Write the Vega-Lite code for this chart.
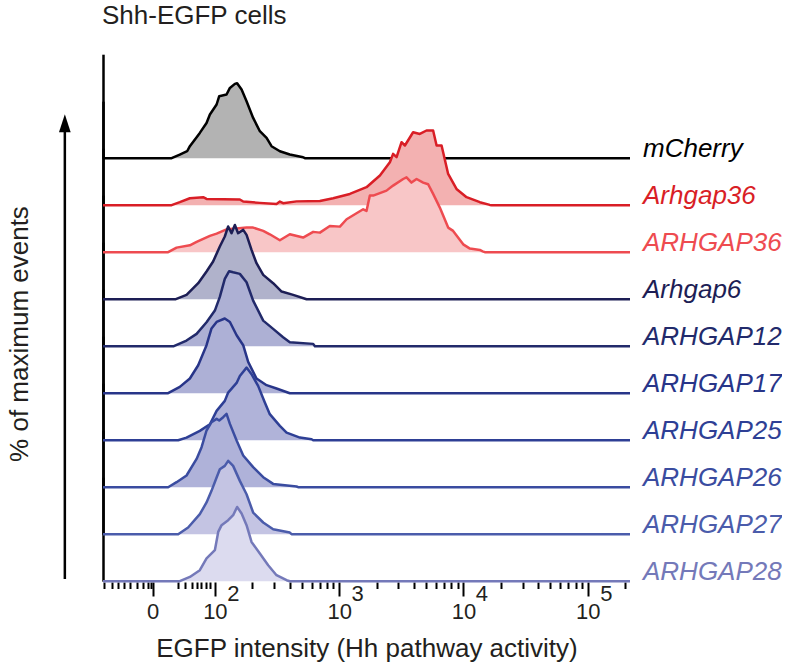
{
  "$schema": "https://vega.github.io/schema/vega-lite/v6.json",
  "padding": {"left": 6, "top": 2, "right": 0, "bottom": 0},
  "title": {"text": "Shh-EGFP cells", "anchor": "start", "fontSize": 26, "fontWeight": "normal", "font": "Liberation Sans", "color": "#231f20", "offset": 53, "dx": 95},
  "data": {"values": [
    {"series":"mCherry","x":1.1,"pct":0},{"series":"mCherry","x":1.652,"pct":0},{"series":"mCherry","x":1.718,"pct":4.9},{"series":"mCherry","x":1.777,"pct":9.3},{"series":"mCherry","x":1.799,"pct":16},{"series":"mCherry","x":1.879,"pct":33.7},{"series":"mCherry","x":1.933,"pct":47},{"series":"mCherry","x":1.96,"pct":58.2},{"series":"mCherry","x":2.014,"pct":71.6},{"series":"mCherry","x":2.035,"pct":82.7},{"series":"mCherry","x":2.094,"pct":84.9},{"series":"mCherry","x":2.121,"pct":93.7},{"series":"mCherry","x":2.161,"pct":99.1},{"series":"mCherry","x":2.179,"pct":100},{"series":"mCherry","x":2.215,"pct":91.6},{"series":"mCherry","x":2.255,"pct":76},{"series":"mCherry","x":2.308,"pct":53.7},{"series":"mCherry","x":2.362,"pct":36},{"series":"mCherry","x":2.416,"pct":27},{"series":"mCherry","x":2.456,"pct":16},{"series":"mCherry","x":2.523,"pct":9.3},{"series":"mCherry","x":2.603,"pct":4.9},{"series":"mCherry","x":2.71,"pct":1.3},{"series":"mCherry","x":2.724,"pct":0},{"series":"mCherry","x":5.34,"pct":0},
    {"series":"Arhgap36","x":1.1,"pct":0},{"series":"Arhgap36","x":1.652,"pct":0},{"series":"Arhgap36","x":1.718,"pct":4},{"series":"Arhgap36","x":1.799,"pct":9.3},{"series":"Arhgap36","x":1.906,"pct":10.7},{"series":"Arhgap36","x":1.933,"pct":8.4},{"series":"Arhgap36","x":2.201,"pct":7.6},{"series":"Arhgap36","x":2.228,"pct":4.9},{"series":"Arhgap36","x":2.362,"pct":3.1},{"series":"Arhgap36","x":2.496,"pct":1.7},{"series":"Arhgap36","x":2.523,"pct":4.9},{"series":"Arhgap36","x":2.549,"pct":2.7},{"series":"Arhgap36","x":2.657,"pct":5.1},{"series":"Arhgap36","x":2.845,"pct":5.6},{"series":"Arhgap36","x":2.952,"pct":9.3},{"series":"Arhgap36","x":3.086,"pct":15},{"series":"Arhgap36","x":3.22,"pct":24},{"series":"Arhgap36","x":3.328,"pct":39.6},{"series":"Arhgap36","x":3.408,"pct":57.3},{"series":"Arhgap36","x":3.434,"pct":68.4},{"series":"Arhgap36","x":3.462,"pct":64},{"series":"Arhgap36","x":3.502,"pct":84},{"series":"Arhgap36","x":3.529,"pct":79.6},{"series":"Arhgap36","x":3.595,"pct":97.3},{"series":"Arhgap36","x":3.649,"pct":95},{"series":"Arhgap36","x":3.703,"pct":99.6},{"series":"Arhgap36","x":3.756,"pct":99.6},{"series":"Arhgap36","x":3.784,"pct":79.6},{"series":"Arhgap36","x":3.824,"pct":79.6},{"series":"Arhgap36","x":3.877,"pct":41.7},{"series":"Arhgap36","x":3.944,"pct":21.7},{"series":"Arhgap36","x":4.025,"pct":10.7},{"series":"Arhgap36","x":4.132,"pct":4},{"series":"Arhgap36","x":4.212,"pct":0.4},{"series":"Arhgap36","x":4.228,"pct":0},{"series":"Arhgap36","x":5.34,"pct":0},
    {"series":"ARHGAP36","x":1.1,"pct":0},{"series":"ARHGAP36","x":1.624,"pct":0},{"series":"ARHGAP36","x":1.692,"pct":6.1},{"series":"ARHGAP36","x":1.799,"pct":9.2},{"series":"ARHGAP36","x":1.853,"pct":13.7},{"series":"ARHGAP36","x":1.96,"pct":21.7},{"series":"ARHGAP36","x":2.014,"pct":24.8},{"series":"ARHGAP36","x":2.094,"pct":30.5},{"series":"ARHGAP36","x":2.175,"pct":31.5},{"series":"ARHGAP36","x":2.255,"pct":32.8},{"series":"ARHGAP36","x":2.308,"pct":32.8},{"series":"ARHGAP36","x":2.389,"pct":28.4},{"series":"ARHGAP36","x":2.442,"pct":23.9},{"series":"ARHGAP36","x":2.523,"pct":15.9},{"series":"ARHGAP36","x":2.603,"pct":23.9},{"series":"ARHGAP36","x":2.71,"pct":19.5},{"series":"ARHGAP36","x":2.791,"pct":27.1},{"series":"ARHGAP36","x":2.845,"pct":26.1},{"series":"ARHGAP36","x":2.925,"pct":35},{"series":"ARHGAP36","x":3.006,"pct":34.1},{"series":"ARHGAP36","x":3.06,"pct":43.9},{"series":"ARHGAP36","x":3.193,"pct":57.2},{"series":"ARHGAP36","x":3.22,"pct":55},{"series":"ARHGAP36","x":3.247,"pct":75.5},{"series":"ARHGAP36","x":3.274,"pct":75.5},{"series":"ARHGAP36","x":3.381,"pct":82.1},{"series":"ARHGAP36","x":3.434,"pct":88.8},{"series":"ARHGAP36","x":3.515,"pct":97.6},{"series":"ARHGAP36","x":3.542,"pct":99.8},{"series":"ARHGAP36","x":3.582,"pct":92.8},{"series":"ARHGAP36","x":3.623,"pct":97.6},{"series":"ARHGAP36","x":3.676,"pct":92.8},{"series":"ARHGAP36","x":3.716,"pct":90.6},{"series":"ARHGAP36","x":3.756,"pct":77.7},{"series":"ARHGAP36","x":3.81,"pct":59.5},{"series":"ARHGAP36","x":3.877,"pct":32.8},{"series":"ARHGAP36","x":3.917,"pct":28.4},{"series":"ARHGAP36","x":3.998,"pct":10.5},{"series":"ARHGAP36","x":4.052,"pct":4.8},{"series":"ARHGAP36","x":4.132,"pct":3},{"series":"ARHGAP36","x":4.154,"pct":1.2},{"series":"ARHGAP36","x":4.172,"pct":0},{"series":"ARHGAP36","x":5.34,"pct":0},
    {"series":"Arhgap6","x":1.1,"pct":0},{"series":"Arhgap6","x":1.686,"pct":0},{"series":"Arhgap6","x":1.772,"pct":5.7},{"series":"Arhgap6","x":1.866,"pct":21.3},{"series":"Arhgap6","x":1.933,"pct":37},{"series":"Arhgap6","x":1.986,"pct":50.3},{"series":"Arhgap6","x":2.04,"pct":70.3},{"series":"Arhgap6","x":2.08,"pct":83.6},{"series":"Arhgap6","x":2.107,"pct":97},{"series":"Arhgap6","x":2.134,"pct":88},{"series":"Arhgap6","x":2.161,"pct":99},{"series":"Arhgap6","x":2.187,"pct":88},{"series":"Arhgap6","x":2.228,"pct":92.4},{"series":"Arhgap6","x":2.255,"pct":85.7},{"series":"Arhgap6","x":2.295,"pct":65.7},{"series":"Arhgap6","x":2.335,"pct":48},{"series":"Arhgap6","x":2.389,"pct":32.4},{"series":"Arhgap6","x":2.469,"pct":21.3},{"series":"Arhgap6","x":2.537,"pct":10.2},{"series":"Arhgap6","x":2.63,"pct":5.7},{"series":"Arhgap6","x":2.738,"pct":0},{"series":"Arhgap6","x":5.34,"pct":0},
    {"series":"ARHGAP12","x":1.1,"pct":0},{"series":"ARHGAP12","x":1.67,"pct":0},{"series":"ARHGAP12","x":1.772,"pct":7.5},{"series":"ARHGAP12","x":1.853,"pct":16.4},{"series":"ARHGAP12","x":1.933,"pct":32},{"series":"ARHGAP12","x":2.0,"pct":47.5},{"series":"ARHGAP12","x":2.04,"pct":65.7},{"series":"ARHGAP12","x":2.08,"pct":89.7},{"series":"ARHGAP12","x":2.115,"pct":100},{"series":"ARHGAP12","x":2.147,"pct":98.5},{"series":"ARHGAP12","x":2.201,"pct":96.4},{"series":"ARHGAP12","x":2.255,"pct":85.3},{"series":"ARHGAP12","x":2.308,"pct":60.8},{"series":"ARHGAP12","x":2.389,"pct":34.1},{"series":"ARHGAP12","x":2.469,"pct":23.1},{"series":"ARHGAP12","x":2.549,"pct":12},{"series":"ARHGAP12","x":2.603,"pct":5.3},{"series":"ARHGAP12","x":2.791,"pct":3.1},{"series":"ARHGAP12","x":2.805,"pct":0},{"series":"ARHGAP12","x":5.34,"pct":0},
    {"series":"ARHGAP17","x":1.1,"pct":0},{"series":"ARHGAP17","x":1.624,"pct":0},{"series":"ARHGAP17","x":1.718,"pct":8.4},{"series":"ARHGAP17","x":1.799,"pct":19.6},{"series":"ARHGAP17","x":1.866,"pct":37.3},{"series":"ARHGAP17","x":1.933,"pct":64},{"series":"ARHGAP17","x":1.973,"pct":86.3},{"series":"ARHGAP17","x":2.014,"pct":95},{"series":"ARHGAP17","x":2.08,"pct":99.6},{"series":"ARHGAP17","x":2.121,"pct":95},{"series":"ARHGAP17","x":2.175,"pct":77.3},{"series":"ARHGAP17","x":2.228,"pct":64},{"series":"ARHGAP17","x":2.268,"pct":41.7},{"series":"ARHGAP17","x":2.335,"pct":19.6},{"series":"ARHGAP17","x":2.416,"pct":10.7},{"series":"ARHGAP17","x":2.496,"pct":6.3},{"series":"ARHGAP17","x":2.603,"pct":0},{"series":"ARHGAP17","x":5.34,"pct":0},
    {"series":"ARHGAP25","x":1.1,"pct":0},{"series":"ARHGAP25","x":1.705,"pct":0},{"series":"ARHGAP25","x":1.772,"pct":3.5},{"series":"ARHGAP25","x":1.879,"pct":12.4},{"series":"ARHGAP25","x":1.96,"pct":21.3},{"series":"ARHGAP25","x":2.014,"pct":39.1},{"series":"ARHGAP25","x":2.08,"pct":52.4},{"series":"ARHGAP25","x":2.107,"pct":63.5},{"series":"ARHGAP25","x":2.175,"pct":76.4},{"series":"ARHGAP25","x":2.201,"pct":85.7},{"series":"ARHGAP25","x":2.255,"pct":96.8},{"series":"ARHGAP25","x":2.295,"pct":88},{"series":"ARHGAP25","x":2.348,"pct":72.4},{"series":"ARHGAP25","x":2.402,"pct":50.2},{"series":"ARHGAP25","x":2.442,"pct":34.7},{"series":"ARHGAP25","x":2.523,"pct":19.1},{"series":"ARHGAP25","x":2.577,"pct":10.2},{"series":"ARHGAP25","x":2.684,"pct":3.5},{"series":"ARHGAP25","x":2.778,"pct":1.3},{"series":"ARHGAP25","x":2.791,"pct":0},{"series":"ARHGAP25","x":5.34,"pct":0},
    {"series":"ARHGAP26","x":1.1,"pct":0},{"series":"ARHGAP26","x":1.624,"pct":0},{"series":"ARHGAP26","x":1.692,"pct":6.7},{"series":"ARHGAP26","x":1.772,"pct":15.6},{"series":"ARHGAP26","x":1.853,"pct":37.7},{"series":"ARHGAP26","x":1.893,"pct":53.3},{"series":"ARHGAP26","x":1.933,"pct":75.6},{"series":"ARHGAP26","x":1.973,"pct":86.7},{"series":"ARHGAP26","x":2.014,"pct":91.1},{"series":"ARHGAP26","x":2.035,"pct":88.9},{"series":"ARHGAP26","x":2.067,"pct":93.3},{"series":"ARHGAP26","x":2.094,"pct":97.7},{"series":"ARHGAP26","x":2.121,"pct":84.4},{"series":"ARHGAP26","x":2.175,"pct":62.3},{"series":"ARHGAP26","x":2.228,"pct":42.3},{"series":"ARHGAP26","x":2.308,"pct":26.7},{"series":"ARHGAP26","x":2.389,"pct":13.3},{"series":"ARHGAP26","x":2.469,"pct":4.4},{"series":"ARHGAP26","x":2.657,"pct":0.9},{"series":"ARHGAP26","x":2.67,"pct":0},{"series":"ARHGAP26","x":5.34,"pct":0},
    {"series":"ARHGAP27","x":1.1,"pct":0},{"series":"ARHGAP27","x":1.705,"pct":0},{"series":"ARHGAP27","x":1.785,"pct":8.9},{"series":"ARHGAP27","x":1.879,"pct":26.7},{"series":"ARHGAP27","x":1.933,"pct":42.3},{"series":"ARHGAP27","x":1.973,"pct":57.8},{"series":"ARHGAP27","x":2.014,"pct":75.6},{"series":"ARHGAP27","x":2.04,"pct":86.7},{"series":"ARHGAP27","x":2.08,"pct":91.1},{"series":"ARHGAP27","x":2.107,"pct":97.8},{"series":"ARHGAP27","x":2.147,"pct":91.1},{"series":"ARHGAP27","x":2.201,"pct":71.1},{"series":"ARHGAP27","x":2.255,"pct":53.3},{"series":"ARHGAP27","x":2.308,"pct":28.9},{"series":"ARHGAP27","x":2.389,"pct":15.6},{"series":"ARHGAP27","x":2.469,"pct":6.7},{"series":"ARHGAP27","x":2.603,"pct":2.2},{"series":"ARHGAP27","x":2.617,"pct":0},{"series":"ARHGAP27","x":5.34,"pct":0},
    {"series":"ARHGAP28","x":1.1,"pct":0},{"series":"ARHGAP28","x":1.718,"pct":0},{"series":"ARHGAP28","x":1.799,"pct":5.7},{"series":"ARHGAP28","x":1.879,"pct":14.7},{"series":"ARHGAP28","x":1.933,"pct":30.3},{"series":"ARHGAP28","x":2.0,"pct":41.3},{"series":"ARHGAP28","x":2.027,"pct":65.7},{"series":"ARHGAP28","x":2.054,"pct":74.7},{"series":"ARHGAP28","x":2.107,"pct":81.3},{"series":"ARHGAP28","x":2.147,"pct":88},{"series":"ARHGAP28","x":2.179,"pct":99},{"series":"ARHGAP28","x":2.215,"pct":90.3},{"series":"ARHGAP28","x":2.255,"pct":74.7},{"series":"ARHGAP28","x":2.295,"pct":52.4},{"series":"ARHGAP28","x":2.362,"pct":37},{"series":"ARHGAP28","x":2.429,"pct":21.3},{"series":"ARHGAP28","x":2.496,"pct":8},{"series":"ARHGAP28","x":2.577,"pct":1.3},{"series":"ARHGAP28","x":2.603,"pct":0},{"series":"ARHGAP28","x":5.34,"pct":0}
  ]},
  "facet": {
    "row": {
      "field": "series", "type": "nominal",
      "sort": ["mCherry","Arhgap36","ARHGAP36","Arhgap6","ARHGAP12","ARHGAP17","ARHGAP25","ARHGAP26","ARHGAP27","ARHGAP28"],
      "header": {"labels": false, "title": "% of maximum events", "titleFontSize": 26, "titleFontWeight": "normal", "titleFont": "Liberation Sans", "titleColor": "#231f20", "titlePadding": 60}
    }
  },
  "spacing": {"row": 0},
  "bounds": "flush",
  "spec": {
    "width": 527,
    "height": 46.2,
    "encoding": {
      "x": {
        "field": "x", "type": "quantitative",
        "scale": {"domain": [1.1, 5.34], "nice": false, "zero": false},
        "axis": {
          "values": [1.109,1.169,1.222,1.27,1.316,1.37,1.418,1.463,1.485,1.5,1.705,1.759,1.813,1.853,1.887,1.928,1.96,2,2.145,2.301,2.477,2.602,2.699,2.778,2.845,2.903,2.954,3,3.145,3.301,3.477,3.602,3.699,3.778,3.845,3.903,3.954,4,4.145,4.301,4.477,4.602,4.699,4.778,4.845,4.903,4.954,5,5.145,5.301],
          "domain": false, "grid": false,
          "tickColor": "#000", "tickWidth": 2,
          "tickSize": {"condition": {"test": "indexof([1.5,2,3,4,5], datum.value) >= 0", "value": 14}, "value": 6.5},
          "tickOpacity": {"condition": {"test": "indexof([2.145,3.145,4.145,5.145], datum.value) >= 0", "value": 0}, "value": 1},
          "labelExpr": "datum.value == 1.5 ? ['\u00a0', '0'] : (indexof([2,3,4,5], datum.value) >= 0 ? ['\u00a0', '10'] : (indexof([2.145,3.145,4.145,5.145], datum.value) >= 0 ? '' + round(datum.value) : ''))",
          "labelFont": "Liberation Sans", "labelFontSize": 22, "labelColor": "#231f20",
          "labelLineHeight": 10.5, "labelPadding": -5,
          "labelOverlap": false, "labelFlush": false, "labelBound": false,
          "labelAlign": "center", "labelBaseline": "top",
          "title": "EGFP intensity (Hh pathway activity)",
          "titleFont": "Liberation Sans", "titleFontSize": 26, "titleFontWeight": "normal", "titleColor": "#231f20", "titlePadding": 13
        }
      },
      "y": {
        "field": "pct", "type": "quantitative",
        "scale": {"domain": [0, 138.67], "range": [46.2, -57.8], "nice": false, "zero": false},
        "axis": {"domain": true, "domainColor": "#000", "domainWidth": 2.5, "ticks": false, "labels": false, "grid": false, "title": null}
      }
    },
    "layer": [
      {
        "mark": {"type": "area", "interpolate": "linear"},
        "encoding": {
          "fill": {"field": "series", "type": "nominal", "legend": null,
            "scale": {"domain": ["mCherry","Arhgap36","ARHGAP36","Arhgap6","ARHGAP12","ARHGAP17","ARHGAP25","ARHGAP26","ARHGAP27","ARHGAP28"],
                      "range": ["#b3b3b3","#f3b1b1","#f8c6c7","#b0b2cb","#adb0d4","#adb0d6","#b0b3d9","#afb2d9","#c4c4e3","#dcdbef"]}}
        }
      },
      {
        "mark": {"type": "line", "interpolate": "linear", "strokeWidth": 2.5, "strokeJoin": "round"},
        "encoding": {
          "color": {"field": "series", "type": "nominal", "legend": null,
            "scale": {"domain": ["mCherry","Arhgap36","ARHGAP36","Arhgap6","ARHGAP12","ARHGAP17","ARHGAP25","ARHGAP26","ARHGAP27","ARHGAP28"],
                      "range": ["#000000","#d91e26","#ee4b50","#1d1e55","#222a6b","#283589","#2e3f95","#3a4ca0","#4b5cab","#7479b9"]}}
        }
      },
      {
        "transform": [{"filter": "datum.x == 5.34"}],
        "mark": {"type": "text", "align": "left", "baseline": "alphabetic", "dx": 13, "dy": -1, "fontSize": 26, "fontStyle": "italic", "font": "Liberation Sans"},
        "encoding": {
          "text": {"field": "series", "type": "nominal"},
          "color": {"field": "series", "type": "nominal", "legend": null}
        }
      },
      {
        "transform": [{"filter": "datum.series === 'mCherry' && datum.x == 5.34"}],
        "layer": [
          {
            "mark": {"type": "rule", "strokeWidth": 2.5, "color": "#000"},
            "encoding": {"x": {"datum": 0.793, "type": "quantitative"}, "y": {"datum": -561, "type": "quantitative"}, "y2": {"datum": 46}}
          },
          {
            "mark": {"type": "point", "shape": "M0,-1L0.65,1L-0.65,1Z", "filled": true, "color": "#000", "opacity": 1, "size": 324},
            "encoding": {"x": {"datum": 0.793, "type": "quantitative"}, "y": {"datum": 46.7, "type": "quantitative"}}
          }
        ]
      }
    ]
  },
  "config": {"view": {"stroke": null}, "font": "Liberation Sans"}
}
